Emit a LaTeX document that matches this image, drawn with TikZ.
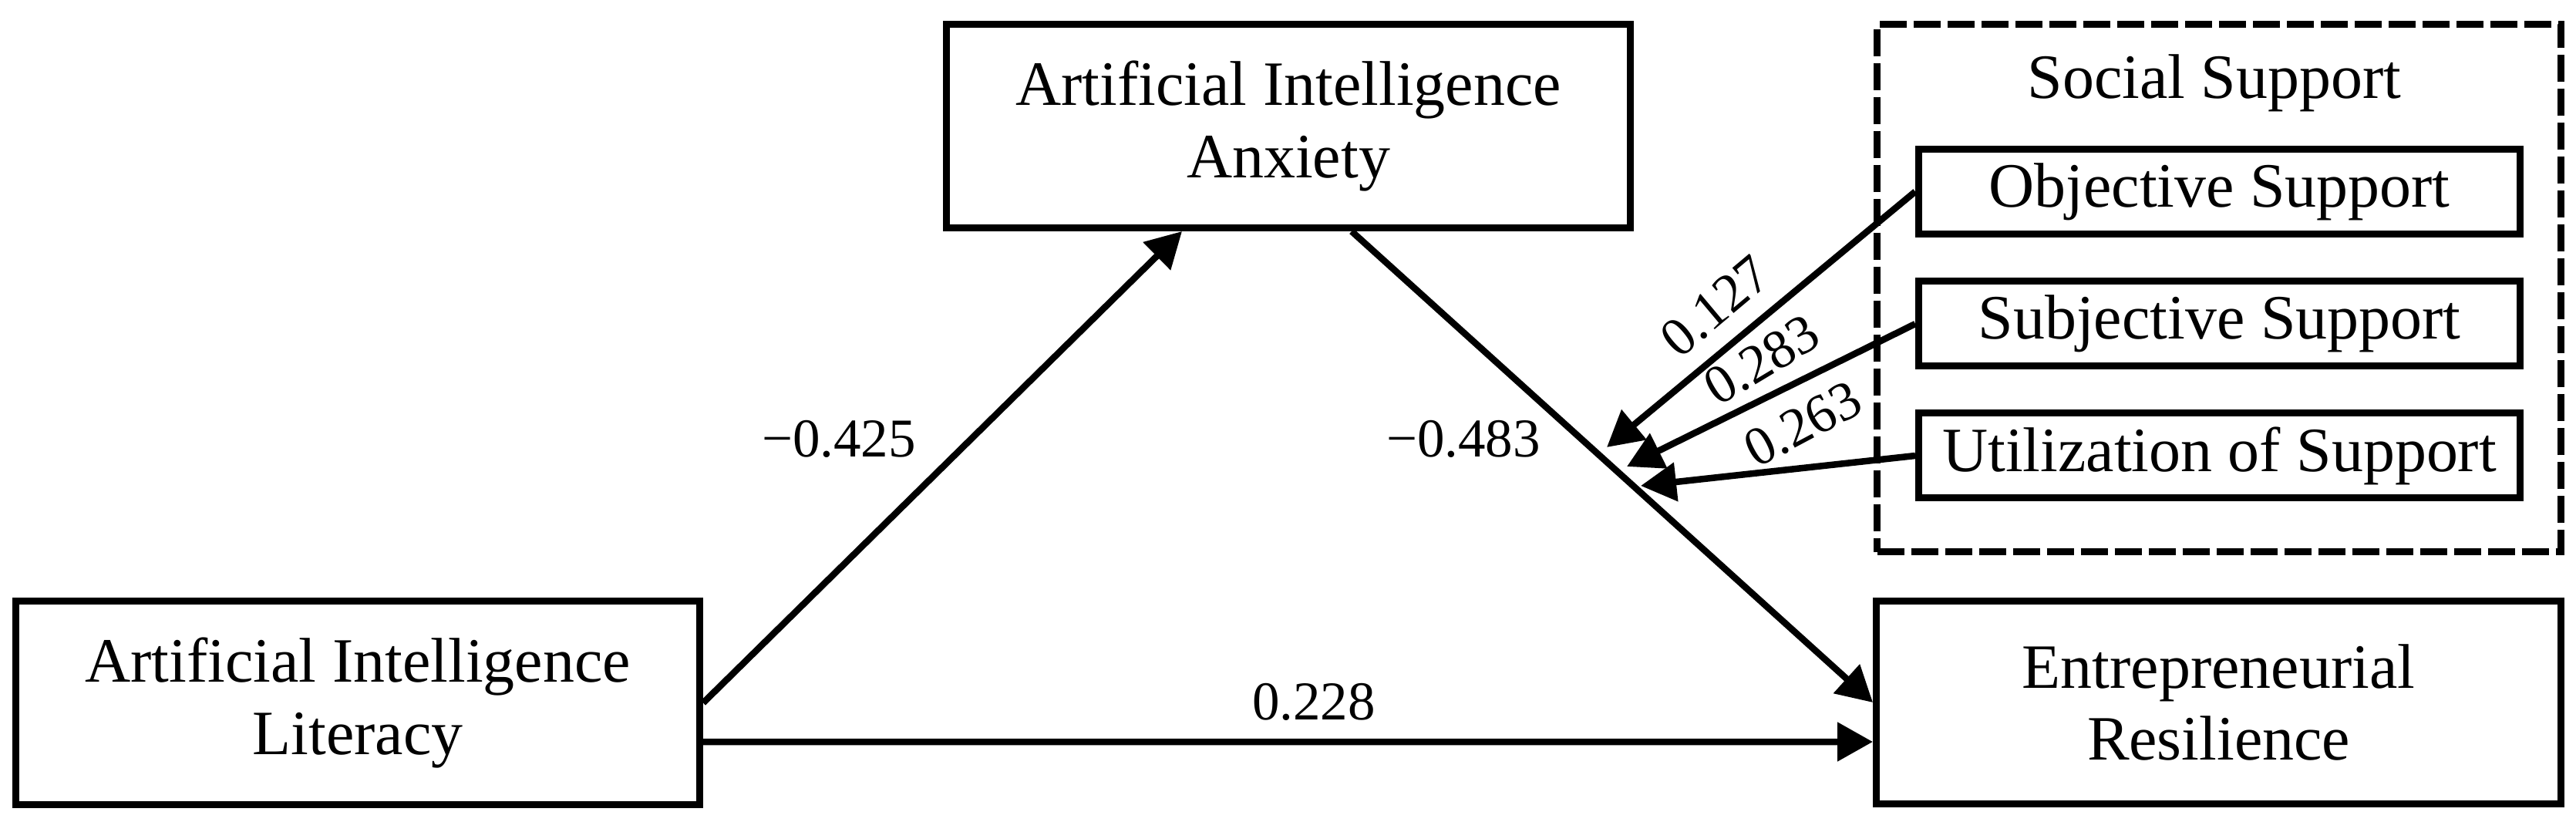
\documentclass[tikz,border=0pt]{standalone}
\usepackage{fontspec}
\setmainfont{Liberation Serif}
\usetikzlibrary{arrows.meta,calc}
\begin{document}
\begin{tikzpicture}[
  box/.style={draw, line width=0.09cm, minimum width=8.87cm, minimum height=2.64cm, align=center, inner sep=0pt, font=\fontsize{23.3}{26.7}\selectfont},
  subbox/.style={draw, line width=0.09cm, minimum width=7.80cm, minimum height=1.10cm, inner sep=0pt, font=\fontsize{23.3}{26.7}\selectfont},
  groupbox/.style={draw, line width=0.09cm, dash pattern=on 0.35cm off 0.09cm, minimum width=8.87cm, minimum height=6.84cm, inner sep=0pt},
  conn/.style={line width=0.085cm, -{Triangle[length=0.46cm,width=0.49cm]}},
  lbl/.style={font=\fontsize{20.2}{24}\selectfont, inner sep=0pt},
  ttl/.style={font=\fontsize{23.3}{26.7}\selectfont, inner sep=0pt},
]
\useasboundingbox (0,0) rectangle (33.41,10.65);

\node[box] (lit) at (4.64,1.535) {Artificial Intelligence\\Literacy};
\node[box] (anx) at (16.71,9.015) {Artificial Intelligence\\Anxiety};
\node[box, minimum width=8.88cm, minimum height=2.63cm] (res) at (28.775,1.54) {Entrepreneurial\\Resilience};

\node[groupbox] (ss) at (28.78,6.915) {};
\node[ttl, anchor=base] (sstitle) at (28.72,9.37) {Social Support};
\node[subbox] (obj) at (28.785,8.165) {Objective Support};
\node[subbox] (sub) at (28.785,6.45) {Subjective Support};
\node[subbox] (uti) at (28.785,4.74) {Utilization of Support};

\coordinate (t1) at (20.84,4.85);
\coordinate (t2) at (21.10,4.60);
\coordinate (t3) at (21.28,4.35);

\draw[conn] (lit.east) -- ($(anx.south)+(-1.38,0)$);
\draw[conn] ($(anx.south)+(0.82,0)$) -- (res.west);
\draw[conn] ($(lit.east)+(0,-0.505)$) -- ($(res.west)+(0,-0.51)$);
\draw[conn] (obj.west) -- (t1);
\draw[conn] (sub.west) -- (t2);
\draw[conn] (uti.west) -- (t3);

\node[lbl, anchor=base] (l1) at (10.88,4.72) {−0.425};
\node[lbl, anchor=base] (l2) at (18.98,4.72) {−0.483};
\node[lbl, anchor=base] (l3) at (17.04,1.32) {0.228};
\node[lbl, rotate=40] (l4) at (22.25,6.68) {0.127};
\node[lbl, rotate=31] (l5) at (22.85,5.98) {0.283};
\node[lbl, rotate=28] (l6) at (23.38,5.15) {0.263};
\end{tikzpicture}
\end{document}
